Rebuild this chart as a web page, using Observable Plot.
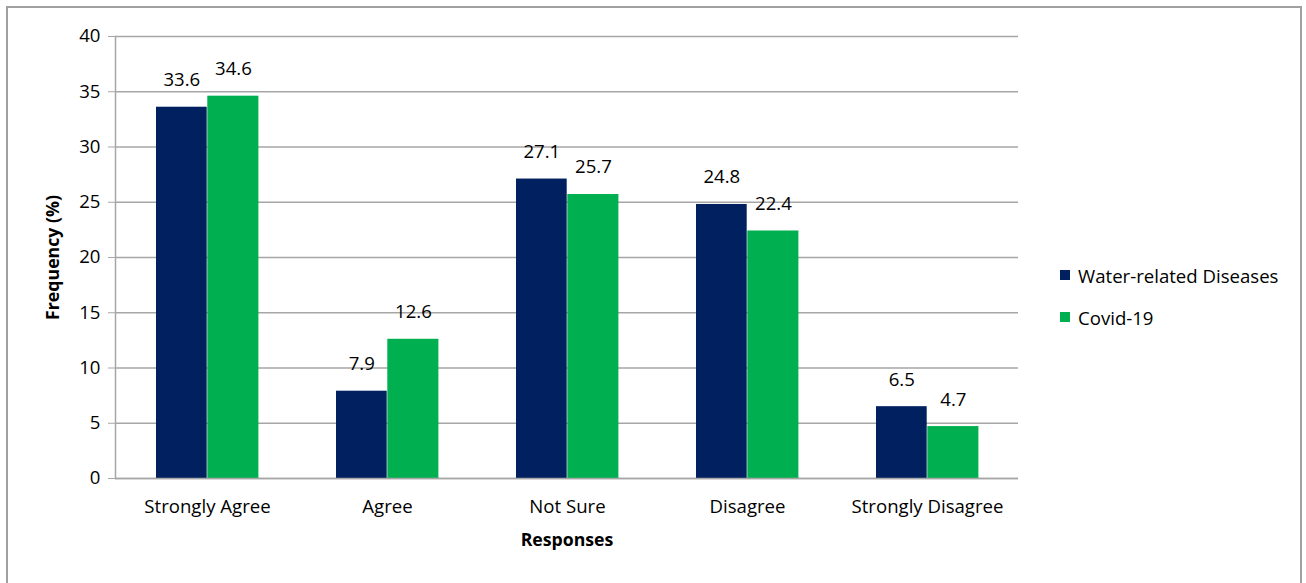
<!DOCTYPE html>
<html>
<head>
<meta charset="utf-8">
<script src="https://cdn.jsdelivr.net/npm/d3@7"></script>
<script src="https://cdn.jsdelivr.net/npm/@observablehq/plot@0.6"></script>
<style>
  html, body { margin: 0; padding: 0; background: #fff; overflow: hidden; }
  #wrap { position: relative; width: 1306px; height: 583px; font-family: "Open Sans", Lato, sans-serif; }
  #border { position: absolute; left: 6px; top: 6px; width: 1296px; height: 620px; border: 2px solid #a0a0a0; box-sizing: border-box; }
  #chart { position: absolute; left: 0; top: 0; }
  #legend { position: absolute; left: 1060px; top: 262px; font-size: 18.6px; color: #000; }
  .item { display: flex; align-items: center; height: 26px; margin-bottom: 16px; }
  .sw { width: 10px; height: 10px; margin-right: 8px; }
</style>
</head>
<body>
<div id="wrap">
  <div id="border"></div>
  <div id="chart"></div>
  <div id="legend"></div>
</div>
<script>
const categories = ["Strongly Agree", "Agree", "Not Sure", "Disagree", "Strongly Disagree"];
const seriesNames = ["Water-related Diseases", "Covid-19"];
const waterValues = [33.6, 7.9, 27.1, 24.8, 6.5];
const covidValues = [34.6, 12.6, 25.7, 22.4, 4.7];
const seriesColors = ["#002060", "#00b050"];
const yTicks = [0, 5, 10, 15, 20, 25, 30, 35, 40];

const waterRows = categories.map((c, i) => ({category: c, value: waterValues[i]}));
const covidRows = categories.map((c, i) => ({category: c, value: covidValues[i]}));

const gridColor = "#a6a6a6";
const fontSize = 18.6;
const fontFamily = "'Open Sans', Lato, sans-serif";

const plot = Plot.plot({
  width: 1306,
  height: 583,
  marginLeft: 115,
  marginRight: 288,
  marginTop: 36,
  marginBottom: 105,
  style: {fontFamily, fontSize: fontSize + "px", color: "#000", background: "transparent"},
  x: {domain: categories, padding: 0, label: null},
  y: {domain: [0, 40], label: null},
  marks: [
    Plot.gridY(yTicks, {stroke: gridColor, strokeOpacity: 1, strokeWidth: 1.3}),
    Plot.barY(waterRows, {x: "category", y: "value", fill: seriesColors[0], insetLeft: 39, insetRight: 90.3}),
    Plot.barY(covidRows, {x: "category", y: "value", fill: seriesColors[1], insetLeft: 90.3, insetRight: 38.6}),
    Plot.text(waterRows, {x: "category", y: "value", text: d => d.value.toFixed(1), dx: -25.7, dy: -27, lineAnchor: "middle", fill: "#000", fontSize}),
    Plot.text(covidRows, {x: "category", y: "value", text: d => d.value.toFixed(1), dx: 25.9, dy: -27, lineAnchor: "middle", fill: "#000", fontSize}),
    Plot.ruleY([0], {stroke: gridColor, strokeWidth: 1.5}),
    Plot.frame({anchor: "left", stroke: gridColor, strokeWidth: 1.5}),
    Plot.axisY(yTicks, {tickSize: 7, tickPadding: 8, stroke: gridColor, label: null, fontSize}),
    Plot.axisX({tickSize: 0, tickPadding: 21, label: null, fontSize}),
    Plot.text(["Frequency (%)"], {frameAnchor: "left", textAnchor: "middle", lineAnchor: "middle", rotate: -90, dx: -62, fontWeight: "bold", fontSize: 17.7}),
    Plot.text(["Responses"], {frameAnchor: "bottom", textAnchor: "middle", lineAnchor: "middle", dy: 62, fontWeight: "bold", fontSize: 17.7})
  ]
});
document.getElementById("chart").appendChild(plot);

const legend = document.getElementById("legend");
seriesNames.forEach((name, i) => {
  const item = document.createElement("div");
  item.className = "item";
  const sw = document.createElement("div");
  sw.className = "sw";
  sw.style.background = seriesColors[i];
  const label = document.createElement("span");
  label.textContent = name;
  item.appendChild(sw);
  item.appendChild(label);
  legend.appendChild(item);
});
</script>
</body>
</html>
